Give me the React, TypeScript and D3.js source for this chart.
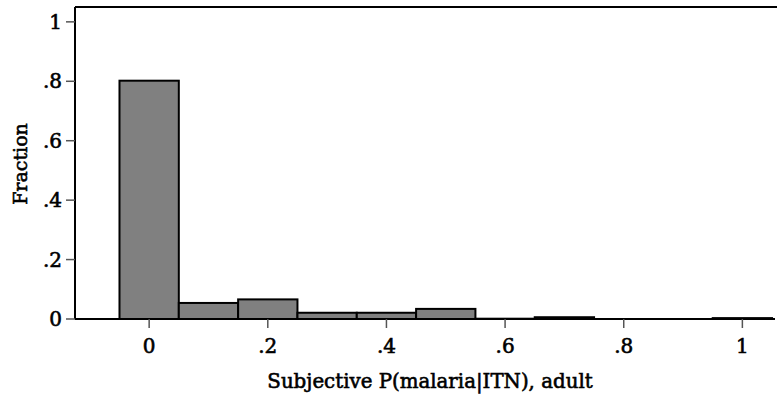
import { useRef, useEffect } from "react";
import * as d3 from "d3";

// Histogram bins (centre of bin, width 0.1) and their fractions
const binCenters = [0, 0.1, 0.2, 0.3, 0.4, 0.5, 0.6, 0.7, 0.8, 0.9, 1.0];
const fractions = [0.802, 0.054, 0.066, 0.021, 0.021, 0.034, 0.001, 0.006, 0, 0, 0.003];
const xTicks = [0, 0.2, 0.4, 0.6, 0.8, 1];
const yTicks = [0, 0.2, 0.4, 0.6, 0.8, 1];
const binWidth = 0.1;

const fmt = (v: number) => (v === 0 ? "0" : v === 1 ? "1" : String(v).replace(/^0/, ""));

export default function App() {
  const svgRef = useRef<SVGSVGElement>(null);

  useEffect(() => {
    if (!svgRef.current) return;
    const width = 777;
    const height = 404;
    const plot = { left: 75, top: 7, right: 777, bottom: 319 };
    const font = "'DejaVu Serif', serif";

    const svg = d3.select(svgRef.current);
    svg.selectAll("*").remove();
    svg.attr("width", width).attr("height", height);

    const x = d3.scaleLinear().domain([-0.125, 1.055]).range([plot.left, 775]);
    const y = d3.scaleLinear().domain([0, 1.05]).range([plot.bottom, plot.top]);

    // Bars
    svg.append("g")
      .selectAll("rect")
      .data(binCenters.map((c, i) => ({ c, v: fractions[i] })).filter(d => d.v > 0))
      .join("rect")
      .attr("x", d => x(d.c - binWidth / 2))
      .attr("y", d => y(d.v))
      .attr("width", d => x(d.c + binWidth / 2) - x(d.c - binWidth / 2))
      .attr("height", d => y(0) - y(d.v))
      .attr("fill", "#808080")
      .attr("stroke", "#000")
      .attr("stroke-width", 2);

    // Frame: left and top lines, bottom axis
    svg.append("line")
      .attr("x1", plot.left).attr("x2", plot.left)
      .attr("y1", plot.top).attr("y2", plot.bottom)
      .attr("stroke", "#000").attr("stroke-width", 2);
    svg.append("line")
      .attr("x1", plot.left).attr("x2", plot.right)
      .attr("y1", plot.top).attr("y2", plot.top)
      .attr("stroke", "#000").attr("stroke-width", 2);
    svg.append("line")
      .attr("x1", plot.left).attr("x2", 775)
      .attr("y1", plot.bottom).attr("y2", plot.bottom)
      .attr("stroke", "#000").attr("stroke-width", 2);

    const textStyle = (sel: any, size: number) =>
      sel.style("font-family", font)
        .style("font-size", `${size}px`)
        .attr("fill", "#000")
        .attr("stroke", "#000")
        .attr("stroke-width", 0.6);

    // Y ticks
    const yg = svg.append("g");
    yTicks.forEach(t => {
      yg.append("line")
        .attr("x1", plot.left - 9).attr("x2", plot.left)
        .attr("y1", y(t)).attr("y2", y(t))
        .attr("stroke", "#555").attr("stroke-width", 1.5);
      yg.append("text")
        .attr("x", plot.left - 13)
        .attr("y", y(t))
        .attr("dy", "0.36em")
        .attr("text-anchor", "end")
        .call((s: any) => textStyle(s, 20))
        .text(fmt(t));
    });

    // X ticks
    const xg = svg.append("g");
    xTicks.forEach(t => {
      xg.append("line")
        .attr("x1", x(t)).attr("x2", x(t))
        .attr("y1", plot.bottom).attr("y2", plot.bottom + 9)
        .attr("stroke", "#555").attr("stroke-width", 1.5);
      xg.append("text")
        .attr("x", x(t))
        .attr("y", 353)
        .attr("text-anchor", "middle")
        .call((s: any) => textStyle(s, 20))
        .text(fmt(t));
    });

    // Axis titles
    svg.append("text")
      .attr("x", 430)
      .attr("y", 388)
      .attr("text-anchor", "middle")
      .call((s: any) => textStyle(s, 19.8))
      .text("Subjective P(malaria|ITN), adult");

    svg.append("text")
      .attr("transform", `translate(27,${(plot.top + plot.bottom) / 2 + 1}) rotate(-90)`)
      .attr("text-anchor", "middle")
      .call((s: any) => textStyle(s, 19))
      .text("Fraction");
  }, []);

  return (
    <svg
      ref={svgRef}
      style={{ position: "absolute", left: 0, top: 0, display: "block", background: "#fff" }}
    />
  );
}
